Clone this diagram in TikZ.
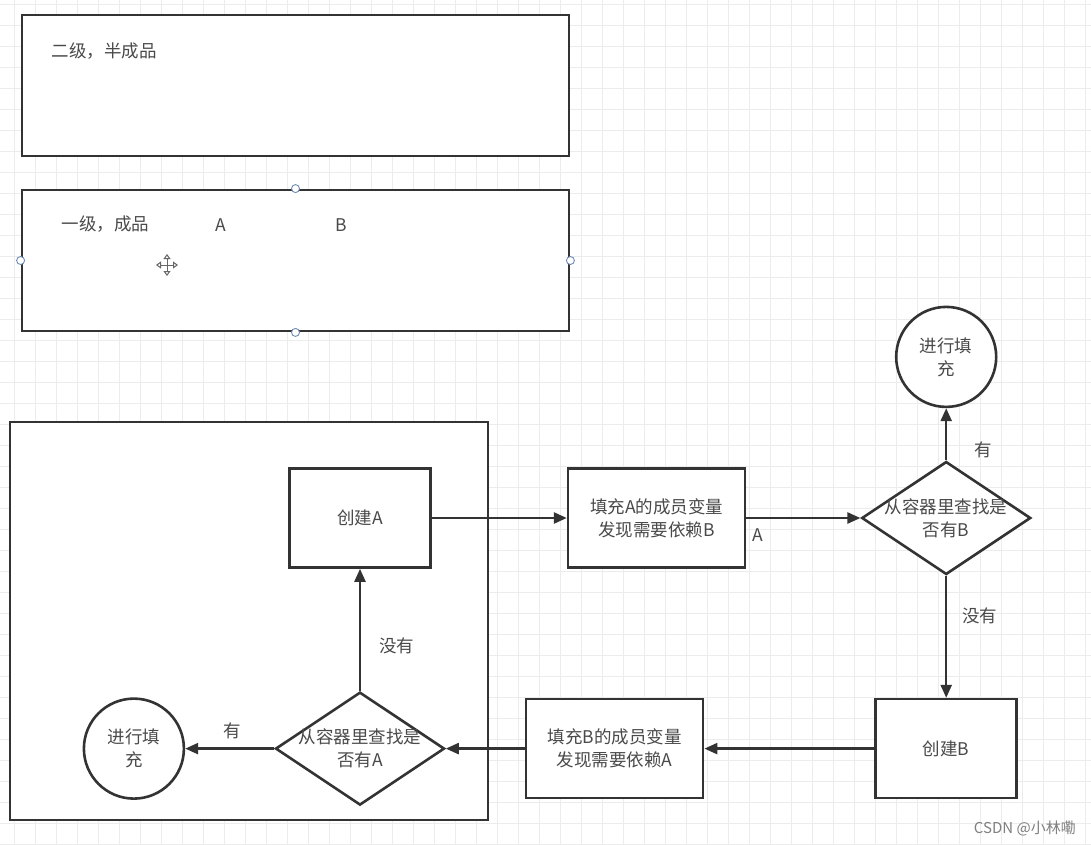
\documentclass[tikz,border=0pt]{standalone}
\usepackage{fontspec}
\setmainfont{Noto Sans CJK SC}
\usetikzlibrary{arrows.meta,positioning,shapes.geometric}
\definecolor{Ink}{HTML}{333333}
\definecolor{Label}{HTML}{4A4A4A}
\definecolor{Grid}{HTML}{ECECEC}
\definecolor{Handle}{HTML}{6F8DB5}
\tikzset{
  panel/.style={rectangle, draw=Ink, line width=2.8pt, fill=white, inner sep=0pt},
  stepbox/.style={rectangle, draw=Ink, line width=2.6pt, fill=white,
    minimum width=141pt, minimum height=99pt, align=center, text=Label},
  widebox/.style={stepbox, minimum width=177pt},
  check/.style={diamond, draw=Ink, line width=2.6pt, fill=white, aspect=1.5,
    minimum width=169pt, minimum height=113pt, inner sep=-12pt, align=center, text=Label},
  done/.style={circle, draw=Ink, line width=2.6pt, fill=white,
    minimum size=100pt, inner sep=0pt, align=center, text=Label},
  arrow/.style={-{Triangle[length=13pt,width=11pt]}, line width=2.4pt, draw=Ink},
  tag/.style={text=Label, inner sep=1pt},
  handle/.style={circle, draw=Handle, fill=white, line width=0.9pt,
    minimum size=8pt, inner sep=0pt},
  gridline/.style={draw=Grid, line width=0.8pt}
}

\begin{document}
\begin{tikzpicture}[x=1pt, y=-1pt, font=\fontsize{17.5}{23}\selectfont]
  \useasboundingbox (0,0) rectangle (1091,844);
  \fill[white] (0,0) rectangle (1091,844);
  % background grid
  \foreach \gx in {14,35,...,1091} \draw[gridline] (\gx,0) -- (\gx,844);
  \foreach \gy in {4,25,...,844} \draw[gridline] (0,\gy) -- (1091,\gy);

  % upper panels
  \node[panel, minimum width=547pt, minimum height=141pt] (semi) at (295.5,85.5) {};
  \node[panel, minimum width=547pt, minimum height=141pt] (final) at (295.5,260.5) {};
  \node[tag, anchor=west] (semilabel) at ([xshift=30pt,yshift=-37pt]semi.north west) {二级，半成品};
  \node[tag, anchor=west] (finallabel) at ([xshift=40pt,yshift=-35pt]final.north west) {一级，成品};
  \node[tag] (slotA) at (221,225) {A};
  \node[tag] (slotB) at (341,225) {B};
  \foreach \side in {north,south,east,west}
    \node[handle] at (final.\side) {};
  \coordinate (grip) at (167,265);
  \draw[Ink!75, line width=1pt, {Triangle[open,length=5pt,width=7pt]}-{Triangle[open,length=5pt,width=7pt]}]
    ([xshift=-11pt]grip) -- ([xshift=11pt]grip);
  \draw[Ink!75, line width=1pt, {Triangle[open,length=5pt,width=7pt]}-{Triangle[open,length=5pt,width=7pt]}]
    ([yshift=-11pt]grip) -- ([yshift=11pt]grip);

  % flow
  \node[panel, minimum width=478pt, minimum height=398pt] (frame) at (249,621) {};
  \node[stepbox] (createA) at (360,518) {创建A};
  \node[widebox, right=135pt of createA] (fillA) {填充A的成员变量\\发现需要依赖B};
  \node[check, right=114pt of fillA] (checkB) {从容器里查找是\\否有B};
  \node[done, above=52pt of checkB] (doneB) {进行填\\充};
  \node[stepbox, below=122pt of checkB] (createB) {创建B};
  \node[widebox, left=170pt of createB] (fillB) {填充B的成员变量\\发现需要依赖A};
  \node[check, below=122pt of createA] (checkA) {从容器里查找是\\否有A};
  \node[done, left=89pt of checkA] (doneA) {进行填\\充};

  \draw[arrow] (createA) -- (fillA);
  \draw[arrow] (fillA) -- node[tag, pos=0.1, below=8pt] {A} (checkB);
  \draw[arrow] (checkB) -- node[tag, pos=0.2, right=26pt] {有} (doneB);
  \draw[arrow] (checkB) -- node[tag, pos=0.33, right=14pt] {没有} (createB);
  \draw[arrow] (createB) -- (fillB);
  \draw[arrow] (fillB) -- (checkA);
  \draw[arrow] (checkA) -- node[tag, pos=0.47, above=8pt] {有} (doneA);
  \draw[arrow] (checkA) -- node[tag, pos=0.37, right=17pt] {没有} (createA);

  \node[tag, anchor=east, text=gray, font=\fontsize{15}{18}\selectfont] (mark) at (1077,828) {CSDN @小林嘞};
\end{tikzpicture}
\end{document}
